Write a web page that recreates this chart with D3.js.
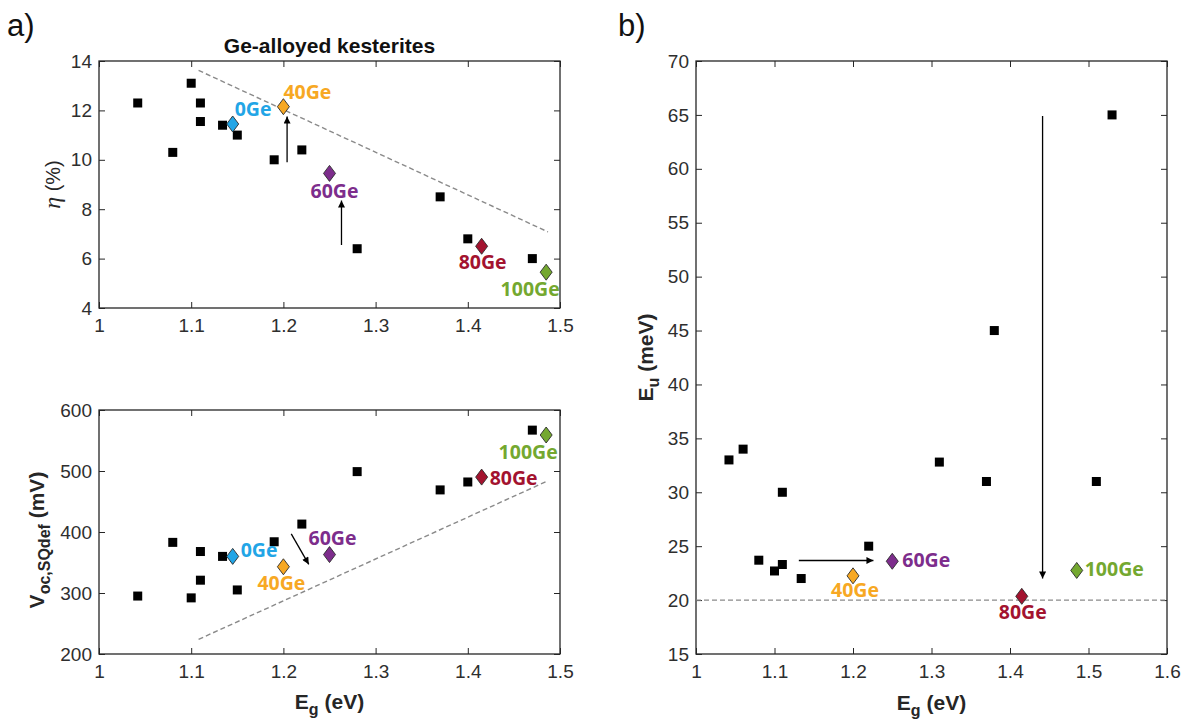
<!DOCTYPE html>
<html><head><meta charset="utf-8">
<script src="https://cdn.jsdelivr.net/npm/d3@7"></script>
<style>body{margin:0;background:#fff} svg{display:block;background:#fff}</style>
</head><body>
<svg id="chart" width="1187" height="721"></svg>
<script>
// ---------------- DATA ----------------
// Panel a (top): efficiency of literature reference kesterites
const refEgEta = [1.042, 1.08, 1.10, 1.11, 1.11, 1.134, 1.15, 1.19, 1.22, 1.28, 1.37, 1.40, 1.47];
const refEta   = [12.3, 10.3, 13.1, 12.3, 11.55, 11.4, 11.0, 10.0, 10.4, 6.4, 8.5, 6.8, 6.0];
// Panel a (bottom): Voc deficit of reference kesterites
const refEgVoc = [1.042, 1.08, 1.10, 1.11, 1.11, 1.134, 1.15, 1.19, 1.22, 1.28, 1.37, 1.40, 1.47];
const refVoc   = [295, 383, 292, 368, 321, 360, 305, 384, 413, 499, 469, 482, 567];
// Panel b: Urbach energy of reference kesterites
const refEgEu  = [1.042, 1.06, 1.08, 1.10, 1.11, 1.11, 1.134, 1.22, 1.31, 1.37, 1.38, 1.51, 1.53];
const refEu    = [33.0, 34.0, 23.7, 22.7, 30.0, 23.3, 22.0, 25.0, 32.8, 31.0, 45.0, 31.0, 65.0];
// Ge-alloyed series (this work)
const geLabels = ["0Ge", "40Ge", "60Ge", "80Ge", "100Ge"];
const geEg     = [1.145, 1.20, 1.25, 1.415, 1.485];
const geEta    = [11.45, 12.15, 9.45, 6.5, 5.45];
const geVoc    = [360, 343, 363, 490, 559];
const geEu     = [null, 22.25, 23.6, 20.35, 22.75];
const geColors = ["#22a5e6", "#f7a823", "#7d2d8c", "#a3132f", "#74a830"];
// Reference limit lines
const etaLimitEg = [1.108, 1.487], etaLimit = [13.62, 7.08];
const vocLimitEg = [1.108, 1.487], vocLimit = [224, 484];
const euLimitEg  = [1.0, 1.6],     euLimit  = [20, 20];
// Arrows [x1, y1, x2, y2] in data units
const etaArrows = [[1.204, 9.9, 1.204, 11.75], [1.263, 6.55, 1.263, 8.35]];
const vocArrows = [[1.2085, 397, 1.2275, 347]];
const euArrows  = [[1.131, 23.67, 1.226, 23.67], [1.4415, 64.9, 1.4415, 22.0]];
// Ticks
const egTicksA = [1, 1.1, 1.2, 1.3, 1.4, 1.5];
const egTicksB = [1, 1.1, 1.2, 1.3, 1.4, 1.5, 1.6];
const etaTicks = [4, 6, 8, 10, 12, 14];
const vocTicks = [200, 300, 400, 500, 600];
const euTicks  = [15, 20, 25, 30, 35, 40, 45, 50, 55, 60, 65, 70];

// ---------------- LAYOUT ----------------
const svg = d3.select("#chart");
const FONT = "'Liberation Sans', Arial, sans-serif";
const LBLFONT = "'Open Sans', 'DejaVu Sans', sans-serif";
const INK = "#262626";

const boxA1 = {x0: 99, x1: 560, y0: 61, y1: 308};
const boxA2 = {x0: 99, x1: 560, y0: 410, y1: 654};
const boxB  = {x0: 696, x1: 1167, y0: 61, y1: 654};

// label offsets (pixels from the diamond centre) per panel: [dx, dy, anchor]
const offA1 = [[2, -8, "start"], [0, -8, "start"], [5, 25, "middle"], [1, 23, "middle"], [-16, 24, "middle"]];
const offA2 = [[8, 1, "start"], [-2, 23, "middle"], [3, -10, "middle"], [8, 8, "start"], [-18, 24, "middle"]];
const offB  = [null, [2, 21, "middle"], [10, 6, "start"], [1, 23, "middle"], [8, 6, "start"]];

const defs = svg.append("defs");
defs.append("marker").attr("id", "arr").attr("viewBox", "0 0 10 10")
  .attr("refX", 10).attr("refY", 5).attr("markerWidth", 9).attr("markerHeight", 7)
  .attr("markerUnits", "userSpaceOnUse").attr("orient", "auto")
  .append("path").attr("d", "M0,0 L10,5 L0,10 Z").attr("fill", "#000");

const fmtTick = d => String(+(+d).toFixed(1));

function panel(box, xDom, yDom, xTicks, yTicks) {
  const x = d3.scaleLinear().domain(xDom).range([box.x0, box.x1]);
  const y = d3.scaleLinear().domain(yDom).range([box.y1, box.y0]);
  const g = svg.append("g");
  const style = sel => {
    sel.select(".domain").remove();
    sel.attr("font-family", FONT).attr("font-size", 19);
    sel.selectAll("line").attr("stroke", INK).attr("stroke-width", 1);
    sel.selectAll("text").attr("fill", "#2e2e2e");
  };
  g.append("g").attr("transform", `translate(0,${box.y1})`)
    .call(d3.axisBottom(x).tickValues(xTicks).tickSize(-6).tickSizeOuter(0).tickPadding(11).tickFormat(fmtTick)).call(style);
  g.append("g").attr("transform", `translate(0,${box.y0})`)
    .call(d3.axisTop(x).tickValues(xTicks).tickSize(-6).tickSizeOuter(0).tickFormat("")).call(style);
  g.append("g").attr("transform", `translate(${box.x0},0)`)
    .call(d3.axisLeft(y).tickValues(yTicks).tickSize(-6).tickSizeOuter(0).tickPadding(7).tickFormat(fmtTick)).call(style);
  g.append("g").attr("transform", `translate(${box.x1},0)`)
    .call(d3.axisRight(y).tickValues(yTicks).tickSize(-6).tickSizeOuter(0).tickFormat("")).call(style);
  g.append("rect").attr("x", box.x0).attr("y", box.y0)
    .attr("width", box.x1 - box.x0).attr("height", box.y1 - box.y0)
    .attr("fill", "none").attr("stroke", INK).attr("stroke-width", 1.3);
  return {x, y, g};
}

function limitLine(p, xs, ys) {
  p.g.append("line").attr("x1", p.x(xs[0])).attr("y1", p.y(ys[0]))
    .attr("x2", p.x(xs[1])).attr("y2", p.y(ys[1]))
    .attr("stroke", "#8a8a8a").attr("stroke-width", 1.4).attr("stroke-dasharray", "5,3");
}
function arrows(p, list) {
  list.forEach(a => p.g.append("line")
    .attr("x1", p.x(a[0])).attr("y1", p.y(a[1])).attr("x2", p.x(a[2])).attr("y2", p.y(a[3]))
    .attr("stroke", "#000").attr("stroke-width", 1.3).attr("marker-end", "url(#arr)"));
}
function squares(p, xs, ys) {
  p.g.selectAll(null).data(xs.map((d, i) => [d, ys[i]])).join("rect")
    .attr("x", d => p.x(d[0]) - 4.5).attr("y", d => p.y(d[1]) - 4.5)
    .attr("width", 9).attr("height", 9).attr("fill", "#000");
}
function diamonds(p, ys, offs) {
  geEg.forEach((eg, i) => {
    if (ys[i] == null) return;
    const cx = p.x(eg), cy = p.y(ys[i]);
    p.g.append("path").attr("d", `M${cx},${cy - 8} L${cx + 6},${cy} L${cx},${cy + 8} L${cx - 6},${cy} Z`)
      .attr("fill", geColors[i]).attr("stroke", "#2b2b2b").attr("stroke-width", 0.9);
    const o = offs[i];
    p.g.append("text").attr("x", cx + o[0]).attr("y", cy + o[1]).attr("text-anchor", o[2])
      .attr("font-family", LBLFONT).attr("font-weight", 700).attr("font-size", 19.5)
      .attr("fill", geColors[i]).text(geLabels[i]);
  });
}

// ---- Panel a top ----
const pA1 = panel(boxA1, [1, 1.5], [4, 14], egTicksA, etaTicks);
limitLine(pA1, etaLimitEg, etaLimit);
squares(pA1, refEgEta, refEta);
arrows(pA1, etaArrows);
diamonds(pA1, geEta, offA1);

// ---- Panel a bottom ----
const pA2 = panel(boxA2, [1, 1.5], [200, 600], egTicksA, vocTicks);
limitLine(pA2, vocLimitEg, vocLimit);
squares(pA2, refEgVoc, refVoc);
arrows(pA2, vocArrows);
diamonds(pA2, geVoc, offA2);

// ---- Panel b ----
const pB = panel(boxB, [1, 1.6], [15, 70], egTicksB, euTicks);
limitLine(pB, euLimitEg, euLimit);
squares(pB, refEgEu, refEu);
arrows(pB, euArrows);
diamonds(pB, geEu, offB);

// ---------------- TEXT ----------------
svg.append("text").attr("x", 7).attr("y", 36).attr("font-family", FONT).attr("font-size", 31)
  .attr("fill", "#111").text("a)");
svg.append("text").attr("x", 618).attr("y", 36).attr("font-family", FONT).attr("font-size", 31)
  .attr("fill", "#111").text("b)");
svg.append("text").attr("x", (boxA1.x0 + boxA1.x1) / 2).attr("y", 53).attr("text-anchor", "middle")
  .attr("font-family", FONT).attr("font-weight", 700).attr("font-size", 21).attr("fill", "#111")
  .text("Ge-alloyed kesterites");

// y label a-top
const yl1 = svg.append("text").attr("transform", `translate(60,${(boxA1.y0 + boxA1.y1) / 2}) rotate(-90)`)
  .attr("text-anchor", "middle").attr("font-family", FONT).attr("font-size", 20).attr("fill", INK);
yl1.append("tspan").attr("font-family", "'Liberation Serif', 'DejaVu Serif', serif").attr("font-style", "italic")
  .attr("font-size", 24).text("η");
yl1.append("tspan").text(" (%)");

// y label a-bottom
const yl2 = svg.append("text").attr("transform", `translate(44,${(boxA2.y0 + boxA2.y1) / 2 + 8}) rotate(-90)`)
  .attr("text-anchor", "middle").attr("font-family", FONT).attr("font-weight", 700).attr("font-size", 21).attr("fill", INK);
yl2.append("tspan").text("V");
yl2.append("tspan").attr("font-size", 16).attr("dy", 6).text("oc,SQdef");
yl2.append("tspan").attr("dy", -6).text(" (mV)");

// y label b
const yl3 = svg.append("text").attr("transform", `translate(653,${(boxB.y0 + boxB.y1) / 2}) rotate(-90)`)
  .attr("text-anchor", "middle").attr("font-family", FONT).attr("font-weight", 700).attr("font-size", 21).attr("fill", INK);
yl3.append("tspan").text("E");
yl3.append("tspan").attr("font-size", 16).attr("dy", 6).text("u");
yl3.append("tspan").attr("dy", -6).text(" (meV)");

// x labels
function xTitle(cx, y) {
  const t = svg.append("text").attr("x", cx).attr("y", y).attr("text-anchor", "middle")
    .attr("font-family", FONT).attr("font-weight", 700).attr("font-size", 21).attr("fill", INK);
  t.append("tspan").text("E");
  t.append("tspan").attr("font-size", 16).attr("dy", 6).text("g");
  t.append("tspan").attr("dy", -6).text(" (eV)");
}
xTitle((boxA2.x0 + boxA2.x1) / 2, 709);
xTitle((boxB.x0 + boxB.x1) / 2, 710);
</script>
</body></html>
